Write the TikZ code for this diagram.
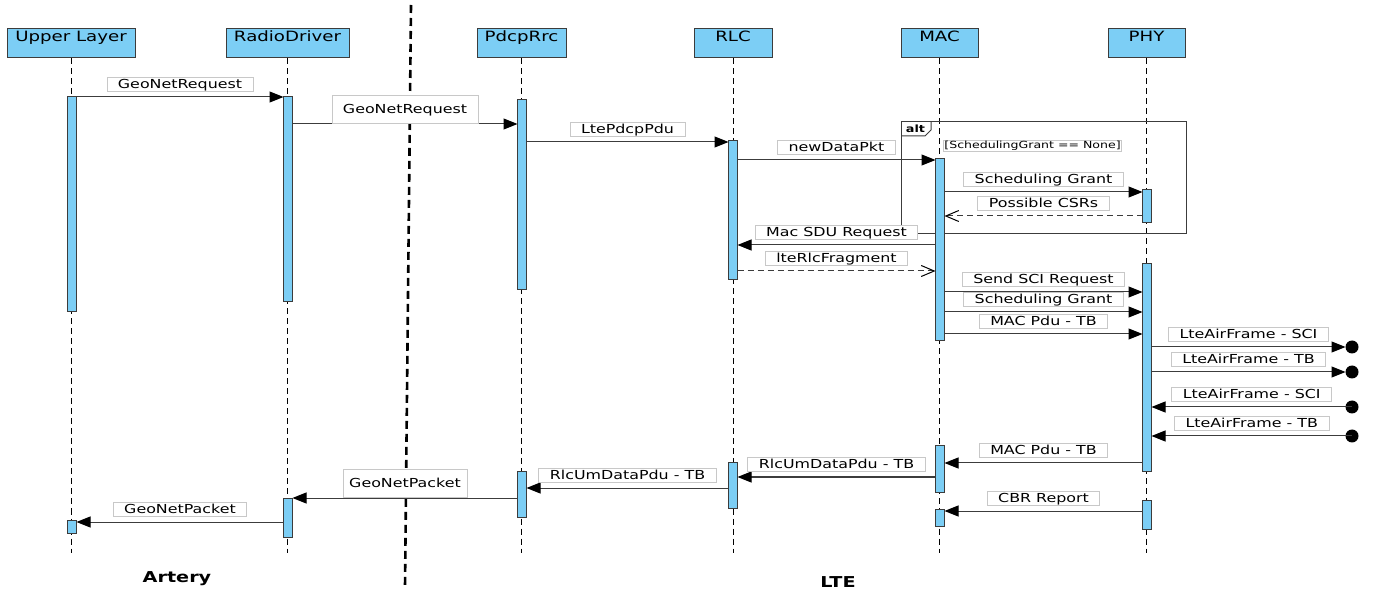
\documentclass[tikz,border=0pt]{standalone}
\usepackage{fontspec}
\setmainfont[FakeStretch=1.28]{DejaVu Sans}
\usetikzlibrary{arrows.meta}

\definecolor{umlblue}{RGB}{124,206,245}
\definecolor{umlline}{RGB}{60,60,60}
\definecolor{lblgray}{RGB}{200,200,200}

\newcommand{\msgfont}{\fontsize{12.4}{14}\selectfont}
% activation bar: name, x, top, bottom
\newcommand{\actbar}[4]{\node[actbar, minimum height={(#4-#3)*1pt}] (#1) at (#2,{(#3+#4)/2}) {};}

\begin{document}
\begin{tikzpicture}[x=1pt, y=-1pt,
    head/.style={draw=umlline, fill=umlblue, line width=1pt, inner xsep=0pt,
        inner ysep=1pt, text height=12pt, text depth=15pt,
        font=\fontsize{14.2}{16}\selectfont},
    lifeline/.style={line width=0.9pt, dash pattern=on 6pt off 4pt},
    actbar/.style={draw=umlline, fill=umlblue, line width=1pt, minimum width=9pt,
        inner sep=0pt, outer sep=0pt},
    msg/.style={draw=umlline, line width=1pt, -{Triangle[length=14pt,width=11pt,color=black]}},
    reply/.style={draw=umlline, line width=1pt, dash pattern=on 6pt off 4pt,
        -{Straight Barb[length=13pt,width=11pt,color=black]}},
    lbl/.style={solid, fill=white, draw=lblgray, line width=0.8pt, inner xsep=11pt,
        inner ysep=1pt, text height=9.5pt, text depth=2.5pt, font=\msgfont},
    biglbl/.style={lbl, minimum height=28pt},
    dot/.style={circle, fill=black, minimum size=13pt, inner sep=0pt, outer sep=0pt},
    frame/.style={draw=umlline, line width=1pt},
    divider/.style={line width=2.6pt, dash pattern=on 8pt off 5pt},
    bottomlbl/.style={font=\bfseries\fontsize{15}{18}\selectfont}
]
\useasboundingbox (0,0) rectangle (1374,593);

% Lifeline heads
\node[head, minimum width=128pt] (ul)  at (71,43.5)     {Upper Layer};
\node[head, minimum width=123pt] (rd)  at (287.5,43.5)  {RadioDriver};
\node[head, minimum width=89pt]  (pr)  at (521.5,43.5)  {PdcpRrc};
\node[head, minimum width=78pt]  (rlc) at (733,43.5)    {RLC};
\node[head, minimum width=77pt]  (mac) at (939.5,43.5)  {MAC};
\node[head, minimum width=77pt]  (phy) at (1146.5,43.5) {PHY};

\foreach \n in {ul,rd,pr,rlc,mac,phy}
    \draw[lifeline] (\n.south) -- (\n.south |- 0,553);

% Artery / LTE border
\draw[divider] (411,5) -- (405,587);

% alt fragment
\draw[frame] (901,122) rectangle (1186,234);
\draw[frame] (901,136) -- (925,136) -- (931,130) -- (931,122);
\node[font=\bfseries\fontsize{10}{12}\selectfont, anchor=base] (alt) at (915.5,133) {alt};
\node[fill=white, draw=lblgray, line width=0.8pt, inner sep=1pt, anchor=west,
    font=\fontsize{9.8}{12}\selectfont] (guard) at (943,146) {[SchedulingGrant == None]};

% Activation bars
\actbar{ul1}{72}{97}{312}
\actbar{ul2}{72}{520}{533}
\actbar{rd1}{288}{97}{302}
\actbar{rd2}{288}{498}{537}
\actbar{pr1}{522}{100}{290}
\actbar{pr2}{522}{472}{517}
\actbar{rlc1}{733}{141}{280}
\actbar{rlc2}{733}{463}{508}
\actbar{mac1}{940}{159}{341}
\actbar{mac2}{940}{446}{492}
\actbar{mac3}{940}{509}{526}
\actbar{phy1}{1147}{190}{223}
\actbar{phy2}{1147}{264}{472}
\actbar{phy3}{1147}{500}{529}

% Lost / found message ends
\node[dot] (lost1)  at (1352,347) {};
\node[dot] (lost2)  at (1352,372) {};
\node[dot] (found1) at (1352,407) {};
\node[dot] (found2) at (1352,436) {};

% Downward messages
\draw[msg] (ul1.east |- 0,97) -- (rd1.west |- 0,97)
    node[lbl, midway, above=5pt] {GeoNetRequest};
\draw[msg] (rd1.east |- 0,124) -- (pr1.west |- 0,124)
    node[biglbl, midway, above=0pt, minimum width=145pt] {GeoNetRequest};
\draw[msg] (pr1.east |- 0,142) -- (rlc1.west |- 0,142)
    node[lbl, midway, above=5pt] {LtePdcpPdu};
\draw[msg] (rlc1.east |- 0,160) -- (mac1.west |- 0,160)
    node[lbl, midway, above=5pt] {newDataPkt};
\draw[msg] (mac1.east |- 0,192) -- (phy1.west |- 0,192)
    node[lbl, midway, above=5pt] {Scheduling Grant};
\draw[reply] (phy1.west |- 0,216) -- (mac1.east |- 0,216)
    node[lbl, midway, above=5pt] {Possible CSRs};
\draw[msg] (mac1.west |- 0,245) -- (rlc1.east |- 0,245)
    node[lbl, midway, above=5pt] {Mac SDU Request};
\draw[reply] (rlc1.east |- 0,271) -- (mac1.west |- 0,271)
    node[lbl, midway, above=5pt] {lteRlcFragment};
\draw[msg] (mac1.east |- 0,292) -- (phy2.west |- 0,292)
    node[lbl, midway, above=5pt] {Send SCI Request};
\draw[msg] (mac1.east |- 0,312) -- (phy2.west |- 0,312)
    node[lbl, midway, above=5pt] {Scheduling Grant};
\draw[msg] (mac1.east |- 0,334) -- (phy2.west |- 0,334)
    node[lbl, midway, above=5pt] {MAC Pdu - TB};

% Air interface
\draw[msg] (phy2.east |- 0,347) -- (lost1.west)
    node[lbl, midway, above=5pt] {LteAirFrame - SCI};
\draw[msg] (phy2.east |- 0,372) -- (lost2.west)
    node[lbl, midway, above=5pt] {LteAirFrame - TB};
\draw[msg] (found1.center) -- (phy2.east |- 0,407)
    node[lbl, midway, above=5pt] {LteAirFrame - SCI};
\draw[msg] (found2.center) -- (phy2.east |- 0,436)
    node[lbl, midway, above=5pt] {LteAirFrame - TB};

% Upward messages
\draw[msg] (phy2.west |- 0,463) -- (mac2.east |- 0,463)
    node[lbl, midway, above=5pt] {MAC Pdu - TB};
\draw[msg] (mac2.west |- 0,477) -- (rlc2.east |- 0,477)
    node[lbl, midway, above=5pt] {RlcUmDataPdu - TB};
\draw[msg] (rlc2.west |- 0,488) -- (pr2.east |- 0,488)
    node[lbl, midway, above=5pt] {RlcUmDataPdu - TB};
\draw[msg] (pr2.west |- 0,498) -- (rd2.east |- 0,498)
    node[biglbl, midway, above=0pt, minimum width=124pt, inner xsep=6pt] {GeoNetPacket};
\draw[msg] (rd2.west |- 0,522) -- (ul2.east |- 0,522)
    node[lbl, midway, above=5pt] {GeoNetPacket};
\draw[msg] (phy3.west |- 0,511) -- (mac3.east |- 0,511)
    node[lbl, midway, above=5pt] {CBR Report};

\node[bottomlbl] (artery) at (177,579) {Artery};
\node[bottomlbl] (lte) at (838,582) {LTE};
\end{tikzpicture}
\end{document}
